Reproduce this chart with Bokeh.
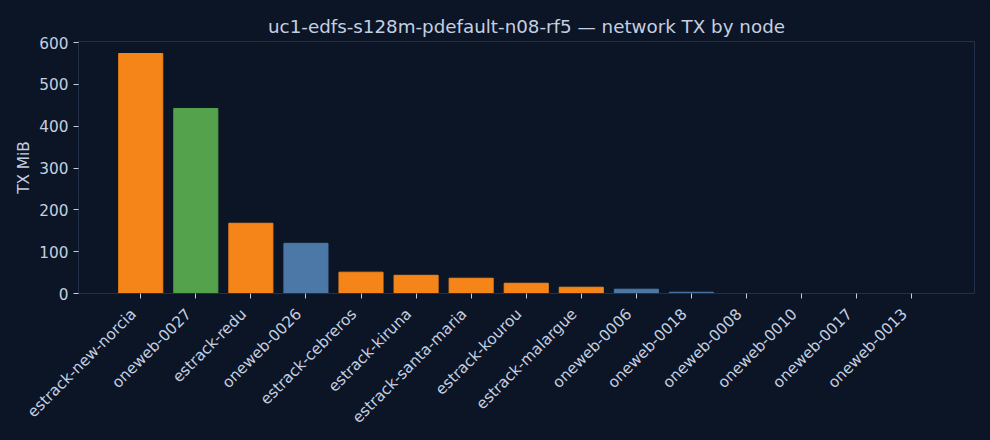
import math
from bokeh.plotting import figure
from bokeh.models import (ColumnDataSource, FixedTicker, Range1d, LinearAxis,
                          CustomJSTickFormatter)
from bokeh.embed import file_html
from bokeh.resources import INLINE

nodes = ["estrack-new-norcia", "oneweb-0027", "estrack-redu", "oneweb-0026",
         "estrack-cebreros", "estrack-kiruna", "estrack-santa-maria",
         "estrack-kourou", "estrack-malargue", "oneweb-0006", "oneweb-0018",
         "oneweb-0008", "oneweb-0010", "oneweb-0017", "oneweb-0013"]
tx_mib = [574, 442.5, 168, 120, 51, 43.5, 36.5, 24.5, 15, 10.3, 3, 0, 0, 0, 0]
y_ticks = [0, 100, 200, 300, 400, 500, 600]

BG = "#0b1526"
TXT = "#c5cfe0"
SPINE = "#223049"
ORANGE = "#f58518"
GREEN = "#54a24b"
BLUE = "#4c78a8"
FONT = "DejaVu Sans"
TICK_FS = "15.3px"

def node_color(name):
    if name.startswith("estrack"):
        return ORANGE
    if name == "oneweb-0027":
        return GREEN
    return BLUE

xs = list(range(len(nodes)))
src = ColumnDataSource(dict(x=xs, top=tx_mib, name=nodes,
                            color=[node_color(n) for n in nodes]))

p = figure(width=990, height=440, output_backend="svg", toolbar_location=None,
           x_range=Range1d(-1.13, 15.14), y_range=Range1d(0, max(tx_mib) * 1.05),
           title="uc1-edfs-s128m-pdefault-n08-rf5 \u2014 network TX by node",
           min_border_left=78, min_border_right=16, min_border_top=41,
           min_border_bottom=147)
p.vbar(x="x", top="top", width=0.8, color="color", source=src)

p.background_fill_color = BG
p.border_fill_color = BG
p.outline_line_color = SPINE
p.outline_line_width = 1
p.grid.visible = False

p.title.align = "center"
p.title.text_color = TXT
p.title.text_font = FONT
p.title.text_font_style = "normal"
p.title.text_font_size = "18.3px"
p.title.offset = 0
p.title.standoff = 9

for ax in (p.xaxis[0], p.yaxis[0]):
    ax.axis_line_color = SPINE
    ax.major_tick_line_color = TXT
    ax.minor_tick_line_color = None
    ax.major_tick_out = 5
    ax.major_tick_in = 0
    ax.major_label_text_color = TXT
    ax.major_label_text_font = FONT
    ax.major_label_text_font_size = TICK_FS
    ax.major_label_standoff = 5

# tick marks on the main x axis, labels on a second (offset) axis
p.xaxis[0].ticker = FixedTicker(ticks=xs)
p.xaxis[0].major_label_overrides = {i: "" for i in xs}
p.xaxis[0].major_label_standoff = 0

label_shift = 0.13
lab_ax = LinearAxis(
    ticker=FixedTicker(ticks=[x - label_shift for x in xs]),
    formatter=CustomJSTickFormatter(args=dict(names=nodes, shift=label_shift),
                                    code="return names[Math.round(tick + shift)] || ''"),
    axis_line_color=None, major_tick_line_color=None, minor_tick_line_color=None,
    major_tick_out=0, major_tick_in=0,
    major_label_text_color=TXT, major_label_text_font=FONT,
    major_label_text_font_size=TICK_FS, major_label_standoff=13,
    major_label_orientation=math.pi / 4)
p.add_layout(lab_ax, "below")

p.yaxis[0].ticker = FixedTicker(ticks=y_ticks)
p.yaxis[0].axis_label = "TX MiB"
p.yaxis[0].axis_label_text_color = TXT
p.yaxis[0].axis_label_text_font = FONT
p.yaxis[0].axis_label_text_font_style = "normal"
p.yaxis[0].axis_label_text_font_size = TICK_FS
p.yaxis[0].axis_label_standoff = 3

template = """
{% block inner_head %}{{ super() }}<style>html, body { background: #0b1526; }</style>{% endblock %}
"""
open("out.html", "w").write(file_html(p, INLINE, template=template))
